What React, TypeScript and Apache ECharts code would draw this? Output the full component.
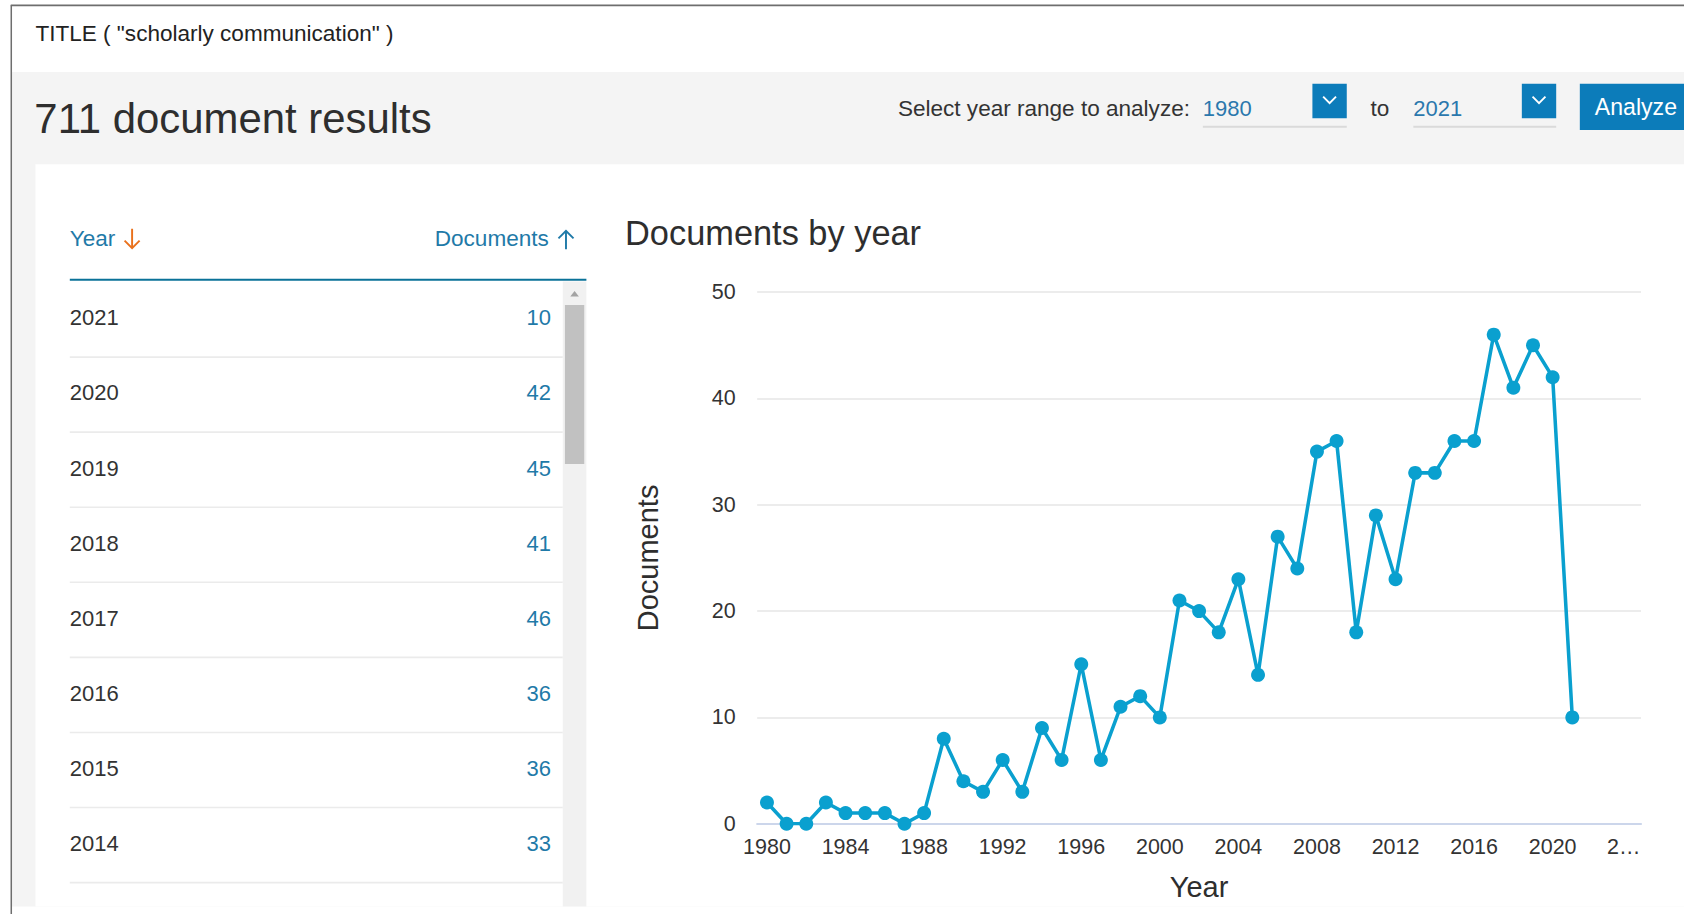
import React, { useEffect, useRef } from "react";
import * as echarts from "echarts";

const FONT = '"Liberation Sans", Arial, Helvetica, sans-serif';

const queryText = 'TITLE ( "scholarly communication" )';
const resultsText = "711 document results";
const chartTitle = "Documents by year";
const rangeLabel = "Select year range to analyze:";
const rangeFrom = "1980";
const rangeTo = "2021";

// x categories (axis runs to 2024, last label truncated as in the source)
const yearCategories = [
  "1980", "1981", "1982", "1983", "1984", "1985", "1986", "1987", "1988", "1989",
  "1990", "1991", "1992", "1993", "1994", "1995", "1996", "1997", "1998", "1999",
  "2000", "2001", "2002", "2003", "2004", "2005", "2006", "2007", "2008", "2009",
  "2010", "2011", "2012", "2013", "2014", "2015", "2016", "2017", "2018", "2019",
  "2020", "2021", "2022", "2023", "2024",
];
const truncatedTick = { "2024": "2…" } as Record<string, string>;

// documents per year 1980..2021
const documentCounts = [
  2, 0, 0, 2, 1, 1, 1, 0, 1, 8,
  4, 3, 6, 3, 9, 6, 15, 6, 11, 12,
  10, 21, 20, 18, 23, 14, 27, 24, 35, 36,
  18, 29, 23, 33, 33, 36, 36, 46, 41, 45,
  42, 10,
];

const yMin = 0;
const yMax = 50;
const yInterval = 10;
const visibleTableRows = 8;

const LINE_COLOR = "#0aa0cf";
const LINK_COLOR = "#1f7aa8";
const BTN_COLOR = "#0c7cba";
const TEXT = "#2e2e2e";

// layout measured on a 1568-wide view of the page; scale to 1684
const S = 1684 / 1568;
const p = (v: number) => v * S;

function txt(text: string, x: number, y: number, size: number, fill: string, align = "left") {
  return {
    type: "text",
    silent: true,
    style: {
      text,
      x: p(x),
      y: p(y),
      fill,
      fontSize: p(size),
      fontFamily: FONT,
      align,
      verticalAlign: "middle",
    },
  };
}

function rect(x: number, y: number, w: number, h: number, fill: string, z = -50) {
  return { type: "rect", silent: true, z, shape: { x: p(x), y: p(y), width: p(w), height: p(h) }, style: { fill } };
}

function line(x1: number, y1: number, x2: number, y2: number, stroke: string, w: number, z = -40) {
  return {
    type: "line",
    silent: true,
    z,
    shape: { x1: p(x1), y1: p(y1), x2: p(x2), y2: p(y2) },
    style: { stroke, lineWidth: p(w) },
  };
}

function poly(points: number[][], stroke: string, w: number) {
  return {
    type: "polyline",
    silent: true,
    z: 5,
    shape: { points: points.map(([a, b]) => [p(a), p(b)]) },
    style: { stroke, lineWidth: p(w), fill: null },
  };
}

function buildGraphics() {
  const g: any[] = [];
  // page backgrounds
  g.push(rect(11, 67, 1560, 777, "#f4f4f4", -60));
  g.push(rect(33, 153, 1540, 691, "#ffffff", -55));
  // frame
  g.push(line(10, 5, 1570, 5, "#6e6e6e", 1.8, 10));
  g.push(line(10.5, 5, 10.5, 860, "#6e6e6e", 1.4, 10));

  g.push(txt(queryText, 33, 31, 21, "#222222"));
  g.push(txt(resultsText, 32, 110, 39, TEXT));

  // year range selector
  g.push(txt(rangeLabel, 1108, 101, 21, "#333333", "right"));
  const selects = [
    { x: 1120, w: 134, val: rangeFrom },
    { x: 1316, w: 133, val: rangeTo },
  ];
  selects.forEach((s) => {
    g.push(txt(s.val, s.x, 101, 20.5, "#2b78ad"));
    g.push(line(s.x, 118, s.x + s.w, 118, "#dadada", 2, -30));
    g.push(rect(s.x + s.w - 32, 78, 32, 32, BTN_COLOR, -30));
    g.push(poly([[s.x + s.w - 22, 90], [s.x + s.w - 16, 96], [s.x + s.w - 10, 90]], "#ffffff", 1.8));
  });
  g.push(txt("to", 1276, 101, 21, "#333333"));
  g.push(rect(1471, 78, 110, 43, BTN_COLOR, -30));
  g.push(txt("Analyze", 1485, 100, 21.5, "#ffffff"));

  // table header
  g.push(txt("Year", 65, 222, 21, LINK_COLOR));
  g.push(line(123, 213, 123, 231, "#e9711c", 1.8, 5));
  g.push(poly([[116, 224], [123, 231], [130, 224]], "#e9711c", 1.8));
  g.push(txt("Documents", 511, 222, 21, LINK_COLOR, "right"));
  g.push(line(527, 215, 527, 232, LINK_COLOR, 1.8, 5));
  g.push(poly([[520, 222], [527, 215], [534, 222]], LINK_COLOR, 1.8));
  g.push(line(65, 260.5, 546, 260.5, "#0a7298", 2, 5));

  // scrollbar
  g.push(rect(524, 262, 22, 582, "#f1f1f1", -30));
  g.push(rect(526, 284, 18, 148, "#c1c1c1", -25));
  g.push({
    type: "polygon",
    silent: true,
    shape: { points: [[531, 276], [539, 276], [535, 271]].map(([a, b]) => [p(a), p(b)]) },
    style: { fill: "#a3a3a3" },
  });

  // table rows built from data (descending years)
  const n = documentCounts.length;
  for (let i = 0; i < visibleTableRows; i++) {
    const idx = n - 1 - i;
    const yc = 296 + i * 69.9;
    g.push(txt(yearCategories[idx], 65, yc, 20.5, "#333333"));
    g.push(txt(String(documentCounts[idx]), 513, yc, 20.5, LINK_COLOR, "right"));
    g.push(line(65, yc + 36.5, 524, yc + 36.5, "#ebebeb", 1.5, -20));
  }

  g.push(txt(chartTitle, 582, 217, 32, TEXT));
  return g;
}

export default function App() {
  const ref = useRef<HTMLDivElement>(null);
  useEffect(() => {
    document.body.style.margin = "0";
    if (!ref.current) return;
    const chart = echarts.init(ref.current, undefined, { renderer: "svg" });
    const labelFont = { fontSize: p(20), color: "#333333", fontFamily: FONT };
    chart.setOption({
      animation: false,
      backgroundColor: "#ffffff",
      textStyle: { fontFamily: FONT },
      graphic: { elements: buildGraphics() },
      grid: { left: p(705), right: p(1568 - 1528), top: p(272), bottom: p(851.05 - 767), containLabel: false },
      xAxis: {
        type: "category",
        data: yearCategories,
        boundaryGap: true,
        name: "Year",
        nameLocation: "middle",
        nameGap: 49,
        nameTextStyle: { fontSize: p(27), color: TEXT, fontFamily: FONT },
        axisLine: { show: true, lineStyle: { color: "#ccd6eb", width: 2 } },
        axisTick: { show: false },
        axisLabel: {
          interval: 3,
          margin: 13,
          ...labelFont,
          formatter: (v: string) => (truncatedTick[v] ? `{cut|${truncatedTick[v]}}` : v),
          rich: { cut: { ...labelFont, padding: [0, 15, 0, 0] } },
        },
        splitLine: { show: false },
      },
      yAxis: {
        type: "value",
        min: yMin,
        max: yMax,
        interval: yInterval,
        name: "Documents",
        nameLocation: "middle",
        nameRotate: 90,
        nameGap: 95,
        nameTextStyle: { fontSize: p(27), color: TEXT, fontFamily: FONT },
        axisLine: { show: false },
        axisTick: { show: false },
        axisLabel: { margin: 21.5, ...labelFont },
        splitLine: { lineStyle: { color: "#e6e6e6", width: 1.5 } },
      },
      series: [
        {
          type: "line",
          data: documentCounts,
          symbol: "circle",
          symbolSize: p(13),
          showSymbol: true,
          showAllSymbol: true,
          lineStyle: { color: LINE_COLOR, width: p(3.3) },
          itemStyle: { color: LINE_COLOR },
          z: 5,
        },
      ],
    });
    return () => chart.dispose();
  }, []);
  return <div ref={ref} style={{ width: 1684, height: 914 }} />;
}
